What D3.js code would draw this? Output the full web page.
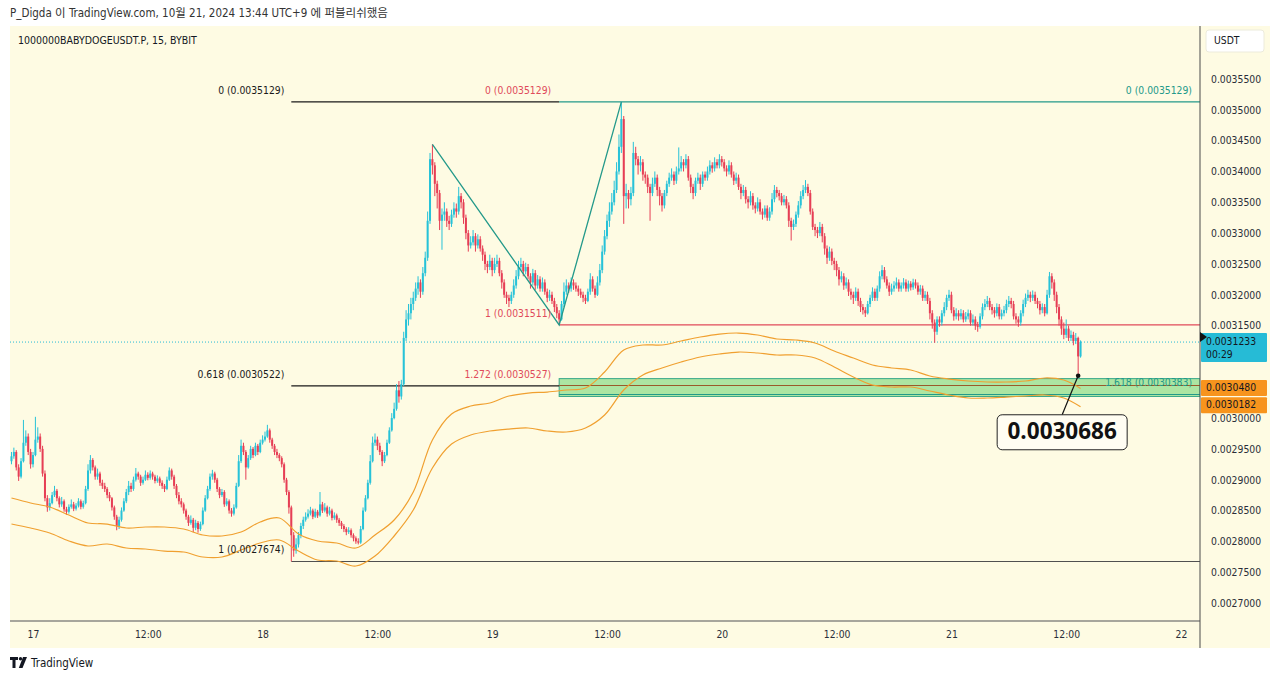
<!DOCTYPE html>
<html>
<head>
<meta charset="utf-8">
<script src="https://cdn.jsdelivr.net/npm/d3@7"></script>
<style>
body { margin: 0; background: #fff; }
svg { display: block; }
.axis text { font-family: "DejaVu Sans Condensed", "DejaVu Sans", sans-serif; font-size: 10.3px; fill: #2a2e39; }
.lbl { font-family: "DejaVu Sans Condensed", "DejaVu Sans", sans-serif; font-size: 10.3px; }
</style>
</head>
<body>
<svg id="chart" width="1280" height="681"></svg>
<script>
// 15 minute candles, prices in units of 0.0000001 USDT
var firstBarUtc = Date.UTC(2024, 9, 16, 21, 45);
var barMinutes = 15;
var firstOpen = 29300;

var closes = [
 29380,29450,29200,29050,29300,29600,29700,29450,29250,29400,
 29650,29700,29500,29100,28700,28550,28620,28750,28820,28700,
 28600,28650,28520,28480,28560,28600,28530,28580,28650,28560,
 28620,28850,29150,29320,29200,29050,29100,28950,28900,28850,
 28750,28700,28550,28400,28250,28350,28500,28650,28800,28900,
 28850,29000,29100,29050,28950,29000,29080,29030,29100,29050,
 28980,29020,28950,28900,28850,29000,29150,29050,28900,28750,
 28650,28600,28500,28400,28300,28350,28220,28300,28200,28280,
 28500,28700,28850,29050,29100,29000,28850,28750,28800,28600,
 28650,28500,28450,28550,28900,29300,29550,29450,29200,29350,
 29500,29400,29550,29450,29600,29650,29700,29800,29650,29550,
 29450,29400,29350,29250,29000,28800,28550,28100,27850,27950,
 28100,28250,28350,28400,28450,28500,28400,28480,28420,28600,
 28500,28550,28450,28500,28380,28420,28350,28300,28250,28200,
 28150,28180,28100,28050,28000,27980,28200,28500,28700,28950,
 29300,29600,29650,29550,29450,29300,29400,29600,29800,30000,
 30150,30450,30350,30550,31300,31600,31700,31850,31950,32100,
 32200,32050,32350,32600,33200,34200,34100,33800,33650,33200,
 33300,33350,33200,33150,33300,33400,33350,33600,33500,33250,
 33000,32800,32850,32950,32800,32900,32750,32650,32500,32450,
 32550,32400,32500,32550,32350,32200,32000,31950,31900,32000,
 32150,32300,32450,32500,32380,32450,32300,32200,32350,32150,
 32250,32100,32200,32050,31950,32000,31900,31800,31700,31600,
 31850,32050,32150,32100,32200,32150,32100,32050,32000,31950,
 31900,32050,32250,32100,32000,32200,32400,32700,32950,33200,
 33350,33500,33700,34000,34400,34850,33600,33650,33550,33650,
 34300,34200,34100,34150,33950,33900,33750,33650,33800,33900,
 33700,33600,33450,33650,33800,33900,33950,33850,34000,34050,
 34150,34100,34200,33900,33750,33650,33850,33900,33800,33950,
 33900,34000,34100,34050,34150,34100,34200,34150,34050,34000,
 34100,33950,33850,33900,33750,33650,33700,33550,33500,33600,
 33450,33400,33500,33350,33300,33400,33250,33350,33550,33700,
 33650,33600,33500,33550,33450,33200,33100,33150,33300,33450,
 33600,33700,33750,33650,33350,33100,33050,33000,33100,32950,
 32750,32600,32700,32550,32500,32400,32250,32300,32150,32200,
 32050,32000,31950,32050,31900,31800,31750,31700,31850,31950,
 32050,31950,32100,32300,32400,32250,32150,32050,32100,32150,
 32200,32100,32150,32200,32100,32180,32120,32200,32150,32050,
 32100,31950,32000,31900,31700,31550,31400,31600,31550,31700,
 31800,31950,32000,31750,31650,31700,31650,31700,31600,31650,
 31700,31550,31600,31500,31480,31650,31800,31850,31900,31800,
 31750,31700,31800,31650,31700,31750,31850,31900,31850,31650,
 31600,31550,31700,31850,31950,32000,31950,32000,31900,31850,
 31750,31800,31700,32000,32300,32200,32000,31800,31600,31450,
 31350,31450,31300,31350,31250,31300,31000,31233
];

var highs = [
 29450,29520,29480,29250,29350,29970,29800,29750,29500,29450,
 30020,29850,29750,29550,29150,28750,28700,28800,28900,28850,
 28730,28720,28680,28560,28600,28680,28640,28620,28700,28680,
 28660,28900,29250,29400,29350,29230,29180,29130,29000,28950,
 28880,28800,28720,28580,28430,28400,28550,28700,28850,28980,
 28950,29050,29190,29130,29080,29050,29150,29120,29150,29130,
 29080,29070,29050,28990,28930,29050,29200,29180,29080,28930,
 28800,28700,28630,28530,28430,28420,28380,28350,28330,28320,
 28550,28750,28900,29100,29160,29130,29030,28880,28850,28830,
 28700,28680,28540,28600,28950,29400,29650,29600,29480,29400,
 29550,29530,29600,29580,29650,29720,29780,29890,29830,29680,
 29580,29500,29430,29380,29280,29030,28830,28580,28150,28050,
 28150,28300,28400,28470,28520,28560,28530,28530,28510,28800,
 28640,28620,28580,28560,28530,28470,28450,28380,28330,28280,
 28230,28230,28210,28130,28080,28050,28250,28550,28750,29000,
 29400,29700,29750,29700,29600,29480,29450,29650,29850,30080,
 30250,30550,30600,30620,31400,31750,31850,31950,32050,32200,
 32300,32250,32450,32700,33350,34300,34440,34150,33850,33700,
 33400,33500,33400,33280,33380,33500,33480,33750,33650,33550,
 33300,33050,32950,33050,33000,32980,32950,32800,32700,32550,
 32650,32600,32600,32650,32600,32400,32250,32050,32000,32050,
 32250,32400,32550,32600,32550,32520,32500,32350,32420,32400,
 32320,32300,32280,32250,32100,32080,32050,31950,31850,31750,
 31900,32200,32250,32200,32280,32250,32200,32150,32100,32050,
 32000,32100,32350,32300,32150,32300,32500,32800,33050,33300,
 33500,33650,33850,34150,34600,35129,34900,33800,33700,33750,
 34480,34400,34250,34250,34200,34000,33950,33800,33900,34000,
 33950,33750,33650,33700,33850,33980,34050,34000,34080,34390,
 34250,34200,34280,34250,33950,33800,33900,33980,33950,34000,
 34000,34080,34180,34150,34230,34200,34280,34250,34200,34100,
 34180,34150,34000,33980,33950,33800,33780,33750,33600,33680,
 33650,33500,33580,33550,33400,33450,33450,33420,33650,33780,
 33750,33700,33650,33620,33600,33500,33250,33220,33350,33520,
 33680,33780,33860,33800,33700,33400,33150,33100,33180,33150,
 33000,32800,32780,32750,32600,32550,32450,32380,32350,32280,
 32250,32100,32050,32120,32100,31950,31850,31800,31900,32000,
 32120,32100,32150,32380,32480,32450,32300,32200,32180,32220,
 32280,32250,32200,32270,32250,32230,32220,32260,32250,32200,
 32160,32150,32060,32050,31950,31750,31600,31650,31650,31750,
 31880,32000,32080,32050,31800,31780,31750,31770,31750,31720,
 31760,31750,31680,31650,31560,31700,31860,31930,31980,31950,
 31850,31800,31860,31850,31760,31820,31920,31980,31950,31900,
 31700,31650,31750,31920,32020,32080,32050,32070,32050,31950,
 31900,31860,31850,32080,32370,32350,32250,32050,31850,31650,
 31550,31600,31500,31420,31400,31380,31320,31260
];

var lows = [
 29250,29340,29150,28980,29020,29280,29550,29400,29180,29200,
 29380,29600,29450,29050,28650,28480,28500,28600,28720,28650,
 28550,28560,28480,28430,28450,28530,28490,28500,28550,28520,
 28530,28600,28820,29100,29150,29000,29000,28900,28850,28800,
 28700,28650,28500,28350,28180,28200,28320,28480,28620,28750,
 28800,28820,28970,29000,28900,28920,28980,28990,29000,29000,
 28940,28950,28900,28850,28800,28830,28980,29000,28850,28700,
 28600,28550,28450,28350,28250,28270,28150,28180,28140,28170,
 28260,28480,28680,28820,29000,28950,28800,28700,28720,28560,
 28570,28450,28400,28420,28530,28880,29270,29400,29000,29180,
 29320,29350,29380,29400,29430,29570,29620,29680,29600,29500,
 29400,29350,29300,29200,28950,28750,28450,27674,27750,27800,
 27900,28050,28200,28320,28370,28420,28360,28380,28380,28400,
 28460,28470,28400,28420,28340,28350,28300,28250,28200,28150,
 28100,28120,28060,28000,27960,27950,27960,28180,28480,28680,
 28920,29280,29550,29480,29400,29220,29270,29380,29580,29780,
 29980,30120,30250,30300,30520,31250,31500,31600,31750,31900,
 32000,31950,32000,32300,32550,33150,33950,33600,33400,33050,
 32730,33200,33100,33050,33100,33250,33250,33300,33400,33150,
 32900,32700,32750,32800,32700,32750,32700,32550,32400,32350,
 32400,32300,32350,32450,32300,32100,31950,31850,31800,31850,
 31950,32100,32250,32400,32300,32330,32250,32100,32150,32080,
 32100,32050,32050,32000,31880,31900,31850,31720,31620,31511,
 31580,31800,32000,32030,32050,32080,32050,31980,31950,31880,
 31850,31880,32000,32050,31950,31980,32150,32350,32650,32900,
 33100,33300,33450,33650,33950,34300,33150,33400,33400,33450,
 33600,34100,33950,34000,33850,33800,33650,33200,33600,33750,
 33600,33450,33350,33400,33600,33750,33850,33780,33800,33950,
 34000,34000,34050,33850,33650,33550,33600,33800,33700,33750,
 33850,33850,33950,33980,34000,34050,34050,34080,34000,33920,
 33950,33900,33780,33800,33700,33550,33600,33480,33400,33450,
 33380,33320,33350,33300,33220,33250,33200,33200,33300,33500,
 33580,33530,33450,33450,33400,33100,32880,33050,33100,33250,
 33400,33550,33650,33600,33300,33050,32950,32920,32950,32850,
 32650,32500,32550,32480,32400,32300,32150,32200,32080,32100,
 31980,31920,31850,31900,31820,31720,31680,31640,31680,31800,
 31900,31900,31900,32050,32250,32200,32100,31980,32000,32050,
 32100,32050,32050,32100,32050,32050,32070,32080,32100,32000,
 32000,31900,31900,31850,31600,31450,31220,31350,31480,31500,
 31650,31750,31900,31700,31580,31600,31580,31600,31550,31560,
 31600,31500,31500,31430,31400,31450,31600,31750,31800,31750,
 31680,31630,31650,31600,31600,31650,31700,31800,31780,31600,
 31530,31480,31500,31650,31800,31900,31880,31900,31850,31780,
 31680,31700,31650,31680,31950,32100,31900,31700,31500,31350,
 31280,31300,31250,31250,31180,31200,30686,30980
];

// orange envelope lines, one reading every 8 bars (last one on the last bar)
var bandEvery = 8;
var bandUpper = [
 28703,28622,28557,28427,28298,28281,28217,28233,28233,28200,
 28103,28087,28152,28314,28379,28119,28006,27973,27892,28103,
 28346,28800,29644,30066,30195,30244,30358,30406,30422,30455,
 30487,30747,31104,31185,31185,31250,31315,31363,31379,31347,
 31282,31266,31217,31087,30974,30860,30812,30779,30682,30633,
 30601,30585,30585,30601,30650,30617,30480
];
var bandLower = [
 28281,28217,28135,28006,27925,27957,27892,27876,27843,27827,
 27746,27746,27860,27973,28022,27843,27697,27681,27600,27762,
 28087,28508,29190,29579,29725,29790,29822,29839,29790,29774,
 29839,30049,30455,30698,30812,30909,30990,31039,31071,31055,
 31023,31023,30974,30828,30666,30536,30504,30504,30439,30374,
 30325,30325,30341,30358,30374,30325,30182
];

// the price scale runs 0.0027 .. 0.00355; 0.0030500 and 0.0031000 sit under the price tags
var priceRange = [0.0027, 0.00355];
var priceTicks = [0.0027, 0.00275, 0.0028, 0.00285, 0.0029, 0.00295, 0.003,
  0.00315, 0.0032, 0.00325, 0.0033, 0.00335, 0.0034, 0.00345, 0.0035, 0.00355];
var timeTicks = ["2024-10-17T00:00Z","2024-10-17T12:00Z","2024-10-18T00:00Z","2024-10-18T12:00Z",
  "2024-10-19T00:00Z","2024-10-19T12:00Z","2024-10-20T00:00Z","2024-10-20T12:00Z",
  "2024-10-21T00:00Z","2024-10-21T12:00Z","2024-10-22T00:00Z"];
var timeTickLabels = ["17","12:00","18","12:00","19","12:00","20","12:00","21","12:00","22"];

// drawings
var fibLeftLevels = ["0", "0.618", "1"];
var fibLeftPrices = [0.0035129, 0.0030522, 0.0027674];
var fibRedLevels = ["0", "1", "1.272"];
var fibRedPrices = [0.0035129, 0.0031511, 0.0030527];
var fibTealLevels = ["0", "1.618"];
var fibTealPrices = [0.0035129, 0.0030383];
var fibLeftBars = [117, 229];
var fibRightBar = 229;
var zonePrices = [0.0030640, 0.0030350];
var zigzagBars = [176, 229, 255];
var lastPrice = 0.0031233, countdown = "00:29";
var bandLastLabels = [0.0030480, 0.0030182];
var calloutBar = 446, calloutPrice = 0.0030686;

var title = "P_Digda 이 TradingView.com, 10월 21, 2024 13:44 UTC+9 에 퍼블리쉬했음";
var symbol = "1000000BABYDOGEUSDT.P, 15, BYBIT";

var bull = "#27c2d8", bear = "#e63e55", teal = "#23998a", orange = "#f0a030";
var plotLeft = 10, plotRight = 1200, plotTop = 26, plotBottom = 621;

var bars = closes.map(function (c, i) {
  var o = i === 0 ? firstOpen : closes[i - 1];
  var h = Math.max(highs[i] || c, o, c), l = Math.min(lows[i] || c, o, c);
  return { t: new Date(firstBarUtc + i * barMinutes * 60000), o: o / 1e7, c: c / 1e7, h: h / 1e7, l: l / 1e7 };
});
var barTime = function (i) { return new Date(firstBarUtc + i * barMinutes * 60000); };

var svg = d3.select("#chart");

var x = d3.scaleUtc()
  .domain([new Date(timeTicks[0]), new Date(timeTicks[timeTicks.length - 1])])
  .range([33, 1181]);
var y = d3.scaleLinear().domain(priceRange).range([603, 79]);

// backgrounds
svg.append("rect").attr("width", 1280).attr("height", 681).attr("fill", "#fff");
svg.append("rect").attr("x", plotLeft).attr("y", plotTop).attr("width", 1260).attr("height", 622)
  .attr("fill", "#fefbe3");

svg.append("text").attr("x", 10).attr("y", 17)
  .style("font-family", '"DejaVu Sans Condensed","DejaVu Sans","Noto Sans CJK KR",sans-serif')
  .style("font-size", "11.5px").attr("fill", "#333").text(title);

svg.append("defs").append("clipPath").attr("id", "plotclip")
  .append("rect").attr("x", plotLeft).attr("y", plotTop)
  .attr("width", plotRight - plotLeft).attr("height", plotBottom - plotTop);

var plot = svg.append("g").attr("clip-path", "url(#plotclip)");

// current price dotted line
plot.append("line").attr("x1", plotLeft).attr("x2", plotRight)
  .attr("y1", y(lastPrice)).attr("y2", y(lastPrice))
  .attr("stroke", "#26bbd6").attr("stroke-dasharray", "1,2");

// green zone
var xr = x(barTime(fibRightBar));
plot.append("rect").attr("x", xr).attr("y", y(zonePrices[0]))
  .attr("width", plotRight - xr).attr("height", y(zonePrices[1]) - y(zonePrices[0]))
  .attr("fill", "#a3e29a").attr("fill-opacity", 0.9).attr("stroke", "#3aa98a").attr("stroke-width", 1);

// left fib (black)
var xl0 = x(barTime(fibLeftBars[0])), xl1 = x(barTime(fibLeftBars[1]));
fibLeftPrices.forEach(function (p, i) {
  var last = i === fibLeftPrices.length - 1;
  plot.append("line").attr("x1", xl0).attr("x2", last ? plotRight : xl1)
    .attr("y1", y(p)).attr("y2", y(p))
    .attr("stroke", last ? "#505050" : "#1a1a1a").attr("stroke-width", 1.1);
  svg.append("text").attr("class", "lbl").attr("x", xl0 - 7).attr("y", y(p) - 11)
    .attr("text-anchor", "end").attr("dominant-baseline", "middle").attr("fill", "#1a1a1a")
    .text(fibLeftLevels[i] + " (" + p.toFixed(7) + ")");
});

// red fib
fibRedPrices.forEach(function (p, i) {
  if (i > 0) {
    plot.append("line").attr("x1", xr).attr("x2", plotRight).attr("y1", y(p)).attr("y2", y(p))
      .attr("stroke", i === 1 ? "#e04a5a" : "#9a5a2a").attr("stroke-width", 1.1);
  }
  svg.append("text").attr("class", "lbl").attr("x", xr - 8).attr("y", y(p) - 11)
    .attr("text-anchor", "end").attr("dominant-baseline", "middle").attr("fill", "#e04a5a")
    .text(fibRedLevels[i] + " (" + p.toFixed(7) + ")");
});

// teal fib
fibTealPrices.forEach(function (p, i) {
  plot.append("line").attr("x1", xr).attr("x2", plotRight).attr("y1", y(p)).attr("y2", y(p))
    .attr("stroke", teal).attr("stroke-width", 1.1);
  svg.append("text").attr("class", "lbl").attr("x", plotRight - 8).attr("y", y(p) - 11)
    .attr("text-anchor", "end").attr("dominant-baseline", "middle").attr("fill", teal)
    .text(fibTealLevels[i] + " (" + p.toFixed(7) + ")");
});

// candles
var candles = plot.append("g").selectAll("g").data(bars).enter().append("g");
candles.append("line")
  .attr("x1", function (d) { return x(d.t); }).attr("x2", function (d) { return x(d.t); })
  .attr("y1", function (d) { return y(d.h); }).attr("y2", function (d) { return y(d.l); })
  .attr("stroke", function (d) { return d.c >= d.o ? bull : bear; }).attr("stroke-width", 1);
candles.append("rect")
  .attr("x", function (d) { return x(d.t) - 1; }).attr("width", 2)
  .attr("y", function (d) { return y(Math.max(d.o, d.c)); })
  .attr("height", function (d) { return Math.max(1.2, Math.abs(y(d.o) - y(d.c))); })
  .attr("fill", function (d) { return d.c >= d.o ? bull : bear; });

// orange envelope
var bandLine = d3.line()
  .x(function (d, j) { return x(barTime(Math.min(j * bandEvery, closes.length - 1))); })
  .y(function (d) { return y(d / 1e7); })
  .curve(d3.curveCatmullRom.alpha(0.5));
[bandUpper, bandLower].forEach(function (b) {
  plot.append("path").attr("d", bandLine(b)).attr("fill", "none")
    .attr("stroke", orange).attr("stroke-width", 1.2);
});

// zigzag
var zz = zigzagBars.map(function (k, j) {
  return [x(barTime(k)), y((j % 2 === 0 ? highs[k] : lows[k]) / 1e7)];
});
plot.append("path").attr("d", d3.line()(zz)).attr("fill", "none")
  .attr("stroke", teal).attr("stroke-width", 1.3);

// frame lines
svg.append("line").attr("x1", plotLeft).attr("x2", plotRight).attr("y1", plotBottom).attr("y2", plotBottom)
  .attr("stroke", "#8a8a84").attr("stroke-width", 1.5);
svg.append("line").attr("x1", plotRight).attr("x2", plotRight).attr("y1", plotTop).attr("y2", 648)
  .attr("stroke", "#4a4a4a").attr("stroke-width", 1);

// axes
svg.append("g").attr("class", "axis").attr("transform", "translate(" + plotRight + ",0)")
  .call(d3.axisRight(y).tickValues(priceTicks).tickFormat(d3.format(".7f")).tickSize(0).tickPadding(11))
  .call(function (g) { g.select(".domain").remove(); });
svg.append("g").attr("class", "axis").attr("transform", "translate(0," + plotBottom + ")")
  .call(d3.axisBottom(x).tickValues(timeTicks.map(function (d) { return new Date(d); }))
    .tickFormat(function (d, i) { return timeTickLabels[i]; }).tickSize(0).tickPadding(10))
  .call(function (g) { g.select(".domain").remove(); });

// symbol legend
svg.append("text").attr("class", "lbl").attr("x", 18).attr("y", 41).attr("dominant-baseline", "middle")
  .style("font-size", "10.5px").attr("fill", "#131722").text(symbol);

// USDT box
svg.append("rect").attr("x", 1206).attr("y", 30).attr("width", 58).attr("height", 22).attr("rx", 3)
  .attr("fill", "#fff").attr("stroke", "#ecebdc");
svg.append("text").attr("class", "lbl").attr("x", 1214).attr("y", 41).attr("dominant-baseline", "middle")
  .attr("fill", "#131722").text("USDT");

// price tags
var ly = y(lastPrice);
svg.append("rect").attr("x", 1201).attr("y", ly - 9).attr("width", 66).attr("height", 29).attr("rx", 1)
  .attr("fill", "#26bbd6");
svg.append("text").attr("class", "lbl").attr("x", 1206).attr("y", ly).attr("dominant-baseline", "middle")
  .attr("fill", "#131722").text(lastPrice.toFixed(7));
svg.append("text").attr("class", "lbl").attr("x", 1206).attr("y", ly + 13).attr("dominant-baseline", "middle")
  .attr("fill", "#131722").text(countdown);
svg.append("path").attr("d", "M1200," + (ly - 10) + "L1207," + (ly - 5) + "L1200," + (ly))
  .attr("fill", "#111");

bandLastLabels.forEach(function (p, i) {
  var cy = y(p) - (i === 0 ? 0.5 : 1.5);
  svg.append("rect").attr("x", 1201).attr("y", cy - 8).attr("width", 66).attr("height", 16).attr("rx", 1)
    .attr("fill", "#f7941d");
  svg.append("text").attr("class", "lbl").attr("x", 1206).attr("y", cy).attr("dominant-baseline", "middle")
    .attr("fill", "#131722").text(p.toFixed(7));
});

// callout
var ax = x(barTime(calloutBar)), ay = y(calloutPrice);
var bx = ax - 81, by = ay + 39;
svg.append("line").attr("x1", ax).attr("y1", ay).attr("x2", ax - 16).attr("y2", by)
  .attr("stroke", "#111").attr("stroke-width", 1.2);
svg.append("circle").attr("cx", ax).attr("cy", ay).attr("r", 2.3).attr("fill", "#111");
svg.append("rect").attr("x", bx).attr("y", by).attr("width", 130).attr("height", 35).attr("rx", 5)
  .attr("fill", "#fffdf2").attr("stroke", "#222").attr("stroke-width", 1);
svg.append("text").attr("x", bx + 65).attr("y", by + 18).attr("text-anchor", "middle")
  .attr("dominant-baseline", "middle")
  .style("font-family", '"Open Sans","Noto Sans",sans-serif').style("font-size", "22.5px").style("font-weight", 700)
  .attr("fill", "#111").text(calloutPrice.toFixed(7));

// footer logo
var logo = svg.append("g").attr("transform", "translate(10,657)");
logo.append("path").attr("d", "M0,0H8V3H5.5V11H2.5V3H0Z").attr("fill", "#131722");
logo.append("circle").attr("cx", 10.5).attr("cy", 1.7).attr("r", 1.7).attr("fill", "#131722");
logo.append("path").attr("d", "M13,0H17L12.5,11H8.8Z").attr("fill", "#131722");
svg.append("text").attr("x", 31).attr("y", 663).attr("dominant-baseline", "middle")
  .style("font-family", '"DejaVu Sans Condensed","DejaVu Sans",sans-serif').style("font-size", "11.5px")
  .attr("fill", "#131722").text("TradingView");
</script>
</body>
</html>
